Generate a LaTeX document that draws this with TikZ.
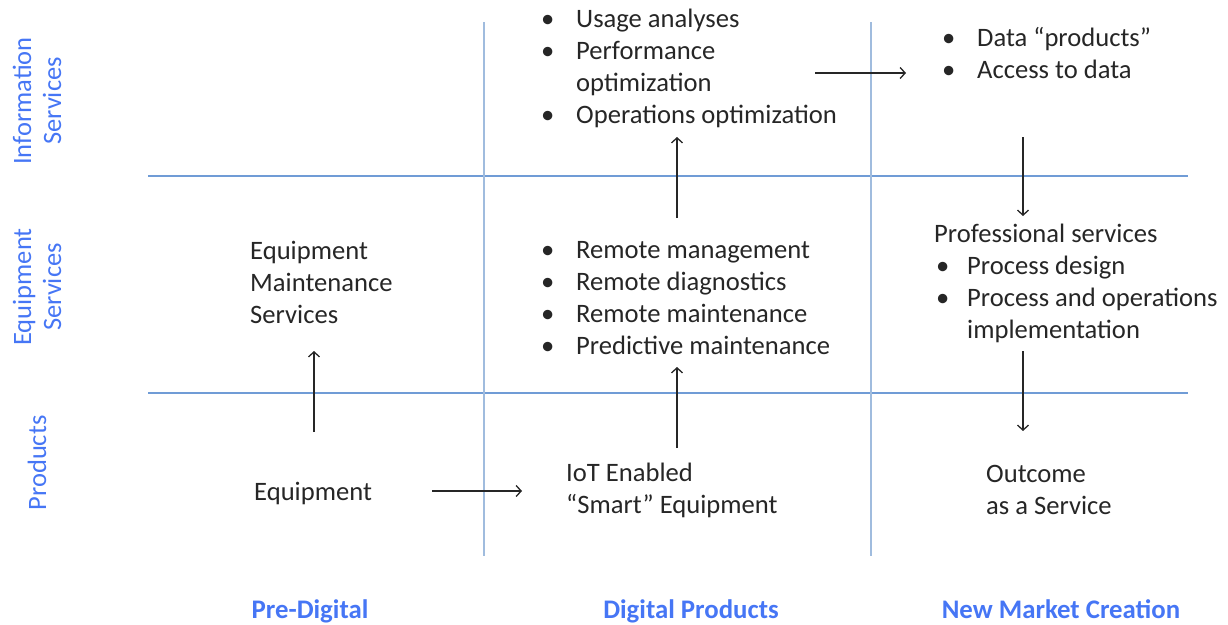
\documentclass[tikz,border=0pt]{standalone}
\usepackage{fontspec}
\setmainfont{Carlito}
\usetikzlibrary{arrows.meta}
\definecolor{hdrblue}{RGB}{70,118,245}
\definecolor{gridh}{RGB}{112,156,214}
\definecolor{gridv}{RGB}{160,188,222}
\newcommand{\bul}{\makebox[35pt][l]{\textbullet}}
\begin{document}
\begin{tikzpicture}[x=1pt,y=-1pt,
  txt/.style={anchor=base west,inner sep=0pt,font=\fontsize{26.6}{32}\selectfont,text=black!85},
  hdr/.style={anchor=base,inner sep=0pt,font=\fontsize{26.8}{32}\selectfont\bfseries,text=hdrblue},
  side/.style={inner sep=0pt,rotate=90,align=center,font=\fontsize{26.5}{30}\selectfont,text=hdrblue},
  hline/.style={draw=gridh,line width=2pt},
  vline/.style={draw=gridv,line width=2.2pt},
  flow/.style={draw=black!85,line width=1.3pt,-{Straight Barb[length=5pt,width=11pt,line width=1.3pt]}}]
\useasboundingbox (0,0) rectangle (1228,624);
% grid
\draw[hline] (148,176) -- (1188,176);
\draw[hline] (148,393) -- (1188,393);
\draw[vline] (484,22) -- (484,556);
\draw[vline] (871,22) -- (871,556);
% side labels
\node[side] (sInfo) at (37,101) {Information\\Services};
\node[side] (sEquip) at (37,287) {Equipment\\Services};
\node[side] (sProd) at (37,463) {Products};
% bottom headers
\node[hdr] (hPre) at (310,618) {Pre-Digital};
\node[hdr] (hDig) at (691,618) {Digital Products};
\node[hdr] (hNew) at (1061,618) {New Market Creation};
% cells
\node[txt] (equip) at (254,500) {Equipment};
\node[txt] (maint) at (250,259) {\begin{tabular}[t]{@{}l@{}}Equipment\\Maintenance\\Services\end{tabular}};
\node[txt] (iot) at (566,481) {\begin{tabular}[t]{@{}l@{}}IoT Enabled\\“Smart” Equipment\end{tabular}};
\node[txt] (remote) at (541,258) {\begin{tabular}[t]{@{}l@{}l@{}}\bul & Remote management\\ \bul & Remote diagnostics\\ \bul & Remote maintenance\\ \bul & Predictive maintenance\end{tabular}};
\node[txt] (usage) at (541,27) {\begin{tabular}[t]{@{}l@{}l@{}}\bul & Usage analyses\\ \bul & Performance\\ & optimization\\ \bul & Operations optimization\end{tabular}};
\node[txt] (data) at (942,46) {\begin{tabular}[t]{@{}l@{}l@{}}\bul & Data “products”\\ \bul & Access to data\end{tabular}};
\node[txt] (prof) at (934,242) {Professional services};
\node[txt] (proc) at (936,274) {\begin{tabular}[t]{@{}l@{}l@{}}\makebox[31pt][l]{\textbullet} & Process design\\ \makebox[31pt][l]{\textbullet} & Process and operations\\ & implementation\end{tabular}};
\node[txt] (outc) at (986,482) {\begin{tabular}[t]{@{}l@{}}Outcome\\as a Service\end{tabular}};
% arrow ends
\coordinate (a1s) at (432,491); \coordinate (a1e) at (522,491);
\coordinate (a2s) at (314,432); \coordinate (a2e) at (314,351);
\coordinate (a3s) at (677,448); \coordinate (a3e) at (677,367);
\coordinate (a4s) at (677,218); \coordinate (a4e) at (677,137);
\coordinate (a5s) at (815,73); \coordinate (a5e) at (906,73);
\coordinate (a6s) at (1023,137); \coordinate (a6e) at (1023,216);
\coordinate (a7s) at (1023,351); \coordinate (a7e) at (1023,431);
\draw[flow] (a1s) -- (a1e);
\draw[flow] (a2s) -- (a2e);
\draw[flow] (a3s) -- (a3e);
\draw[flow] (a4s) -- (a4e);
\draw[flow] (a5s) -- (a5e);
\draw[flow] (a6s) -- (a6e);
\draw[flow] (a7s) -- (a7e);
\end{tikzpicture}
\end{document}
